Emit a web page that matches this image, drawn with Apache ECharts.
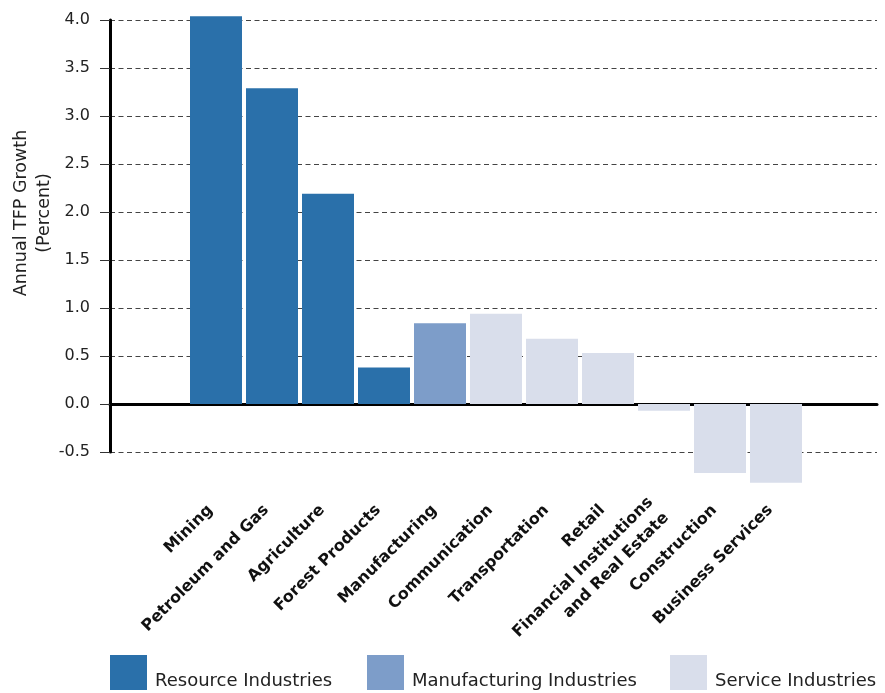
<!DOCTYPE html>
<html>
<head>
<meta charset="utf-8">
<script src="https://cdn.jsdelivr.net/npm/echarts@6/dist/echarts.min.js"></script>
<style>
  html, body { margin: 0; padding: 0; background: #fff; }
  #chart { width: 885px; height: 693px; }
</style>
</head>
<body>
<div id="chart"></div>
<script>
// Industries, in display order
const industries = [
  'Mining', 'Petroleum and Gas', 'Agriculture', 'Forest Products',
  'Manufacturing', 'Communication', 'Transportation', 'Retail',
  'Financial Institutions\nand Real Estate', 'Construction', 'Business Services'
];
// Annual TFP growth (percent), one array per industry group; null = not in group
const resourceGrowth      = [4.04, 3.29, 2.19, 0.38, null, null, null, null, null, null, null];
const manufacturingGrowth = [null, null, null, null, 0.84, null, null, null, null, null, null];
const serviceGrowth       = [null, null, null, null, null, 0.94, 0.68, 0.53, -0.07, -0.72, -0.82];

const groupNames = ['Resource Industries', 'Manufacturing Industries', 'Service Industries'];
const groupColors = ['#2a70aa', '#7d9dc9', '#d9deeb'];

const yMin = -0.5, yMax = 4.0, yStep = 0.5;
const axisFont = 'DejaVu Sans, sans-serif';

const chart = echarts.init(document.getElementById('chart'));

function barSeries(i, data) {
  return {
    name: groupNames[i],
    type: 'bar',
    xAxisIndex: 1,
    yAxisIndex: 1,
    stack: 'growth',
    data: data,
    barWidth: 52,
    clip: false,
    itemStyle: { color: groupColors[i] },
    emphasis: { disabled: true }
  };
}

function legendAt(i, left) {
  return {
    data: [groupNames[i]],
    left: left,
    top: 655,
    icon: 'rect',
    itemWidth: 37,
    itemHeight: 35,
    padding: 0,
    selectedMode: false,
    formatter: name => '{t|' + name + '}',
    textStyle: {
      rich: {
        t: {
          fontFamily: axisFont,
          fontSize: 18,
          color: '#222',
          padding: [17, 0, 0, 3]
        }
      }
    }
  };
}

chart.setOption({
  animation: false,
  backgroundColor: '#fff',
  grid: [
    // frame: y axis, dashed gridlines and the zero line
    { left: 110, right: 8, top: 20, bottom: 241 },
    // bars
    { left: 188, right: 81, top: 20, bottom: 241 }
  ],
  xAxis: [
    {
      type: 'value', gridIndex: 0, min: 0, max: 1,
      axisLine: { show: true, onZero: true, lineStyle: { color: '#000', width: 3 } },
      axisTick: { show: false }, axisLabel: { show: false }, splitLine: { show: false }
    },
    {
      type: 'category', gridIndex: 1, data: industries,
      axisLine: { show: false, onZero: false }, axisTick: { show: false },
      axisLabel: {
        rotate: 45,
        interval: 0,
        margin: 50,
        padding: [0, 8, 0, 0],
        fontFamily: axisFont,
        fontWeight: 'bold',
        fontSize: 16,
        color: '#111',
        lineHeight: 22
      }
    }
  ],
  yAxis: [
    {
      type: 'value', gridIndex: 0, min: yMin, max: yMax, interval: yStep,
      axisLine: { show: true, onZero: false, lineStyle: { color: '#000', width: 3 } },
      axisTick: { show: true, length: 10, lineStyle: { color: '#333', width: 1 } },
      axisLabel: {
        margin: 20,
        fontFamily: axisFont,
        fontSize: 16,
        color: '#222',
        formatter: v => v.toFixed(1)
      },
      splitLine: { show: true, lineStyle: { color: '#444', width: 1, type: [5, 3.5] } }
    },
    {
      type: 'value', gridIndex: 1, min: yMin, max: yMax, interval: yStep,
      show: false, splitLine: { show: false }
    }
  ],
  legend: [legendAt(0, 110), legendAt(1, 367), legendAt(2, 670)],
  graphic: [{
    type: 'text',
    x: 33, y: 213,
    rotation: Math.PI / 2,
    style: {
      text: 'Annual TFP Growth\n(Percent)',
      fontFamily: axisFont,
      fontSize: 17.5,
      lineHeight: 23,
      fill: '#222',
      align: 'center',
      verticalAlign: 'middle'
    }
  }],
  series: [
    barSeries(0, resourceGrowth),
    barSeries(1, manufacturingGrowth),
    barSeries(2, serviceGrowth)
  ]
});
</script>
</body>
</html>
